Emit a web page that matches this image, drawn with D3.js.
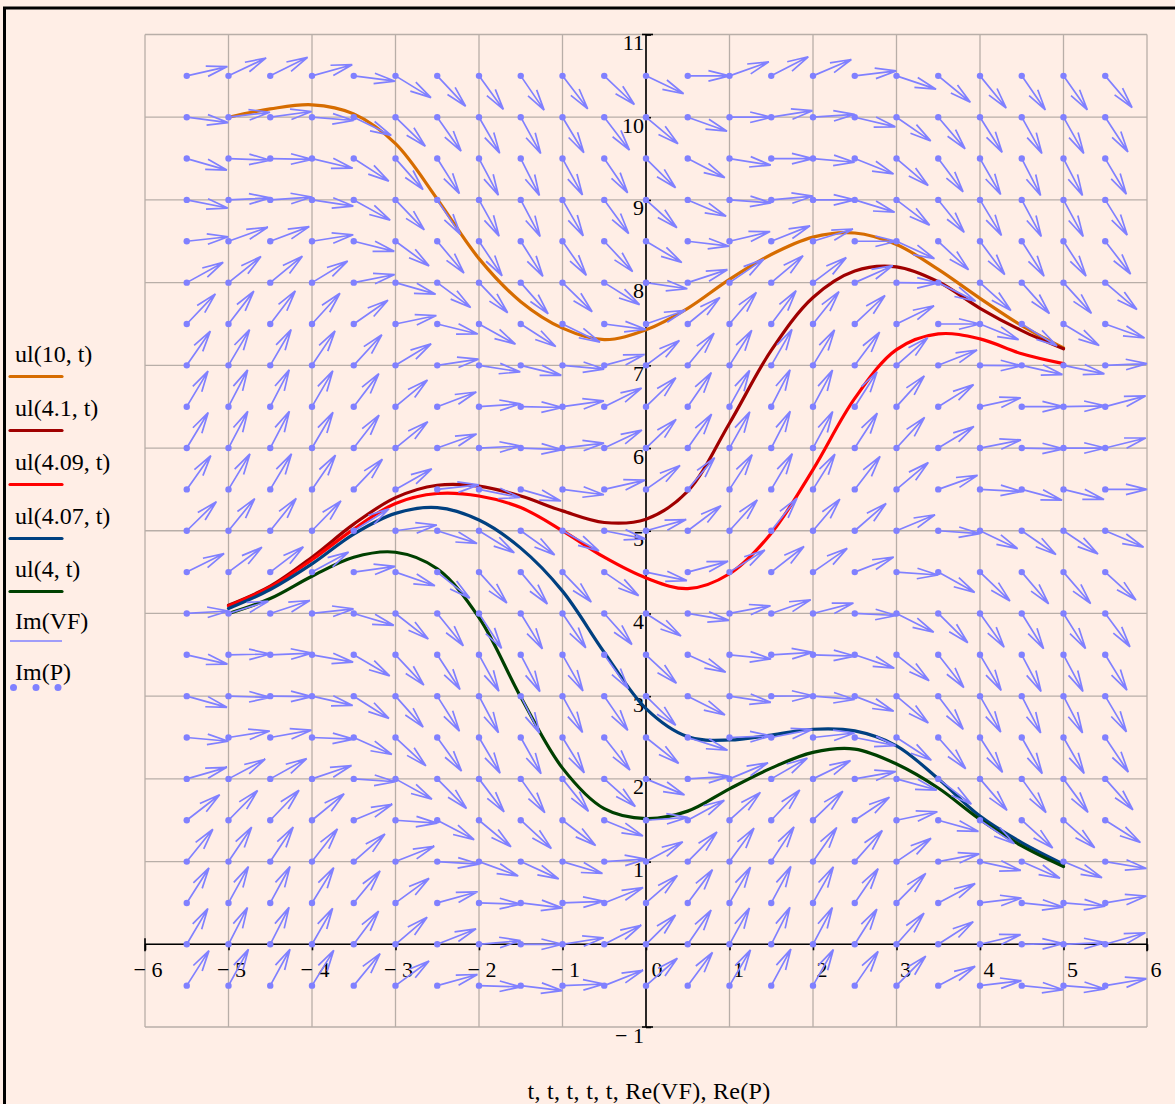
<!doctype html>
<html>
<head>
<meta charset="utf-8">
<style>
  body { margin: 0; background: #ffeee6; }
  text { font-family: "Liberation Serif", "Times New Roman", serif; fill: #000; }
</style>
<script src="https://d3js.org/d3.v7.min.js"></script>
</head>
<body>
<svg width="1175" height="1104"></svg>
<script>
// solution curves ul(y0, t), read at t = -5 .. 5 step 0.5
var curveT = [-5, -4.5, -4, -3.5, -3, -2.5, -2, -1.5, -1, -0.5, 0, 0.5, 1, 1.5, 2, 2.5, 3, 3.5, 4, 4.5, 5];
var ul10   = [10.00, 10.10, 10.15, 10.04, 9.68, 9.01, 8.29, 7.77, 7.45, 7.31, 7.43, 7.69, 8.04, 8.34, 8.55, 8.60, 8.46, 8.16, 7.81, 7.48, 7.21];
var ul4_1  = [4.10, 4.33, 4.68, 5.08, 5.40, 5.55, 5.54, 5.42, 5.24, 5.10, 5.14, 5.48, 6.30, 7.18, 7.82, 8.14, 8.19, 8.01, 7.69, 7.42, 7.20];
var ul4_09 = [4.09, 4.32, 4.65, 5.02, 5.33, 5.45, 5.42, 5.28, 5.00, 4.68, 4.43, 4.30, 4.48, 4.97, 5.74, 6.60, 7.19, 7.38, 7.32, 7.14, 7.02];
var ul4_07 = [4.06, 4.29, 4.60, 4.96, 5.21, 5.28, 5.13, 4.79, 4.27, 3.53, 2.85, 2.51, 2.47, 2.53, 2.60, 2.58, 2.40, 2.00, 1.55, 1.23, 0.97];
var ul4    = [4.00, 4.18, 4.45, 4.68, 4.74, 4.54, 3.95, 2.99, 2.13, 1.64, 1.52, 1.61, 1.88, 2.13, 2.32, 2.36, 2.18, 1.89, 1.51, 1.19, 0.94];

var seriesNames  = ["ul(10, t)", "ul(4.1, t)", "ul(4.09, t)", "ul(4.07, t)", "ul(4, t)"];
var seriesValues = [ul10, ul4_1, ul4_09, ul4_07, ul4];
var seriesColors = ["#d66c00", "#a00000", "#ff0000", "#004080", "#004000"];

// vector field: slope at each grid point (rows = fieldY, columns = fieldT)
var fieldT = [-5.5, -5, -4.5, -4, -3.5, -3, -2.5, -2, -1.5, -1, -0.5, 0, 0.5, 1, 1.5, 2, 2.5, 3, 3.5, 4, 4.5, 5, 5.5];
var fieldY = [10.5, 10, 9.5, 9, 8.5, 8, 7.5, 7, 6.5, 6, 5.5, 5, 4.5, 4, 3.5, 3, 2.5, 2, 1.5, 1, 0.5, 0, -0.5];
var fieldSlope = [
  [0.23, 0.48, 0.50, 0.28, -0.13, -0.62, -1.08, -1.39, -1.48, -1.32, -0.96, -0.48, 0.00, 0.36, 0.52, 0.43, 0.12, -0.34, -0.83, -1.24, -1.46, -1.44, -1.19],
  [-0.13, 0.12, 0.14, -0.08, -0.49, -0.98, -1.44, -1.75, -1.84, -1.68, -1.32, -0.84, -0.36, 0.00, 0.16, 0.07, -0.24, -0.70, -1.19, -1.60, -1.82, -1.80, -1.55],
  [-0.29, -0.04, -0.02, -0.24, -0.65, -1.14, -1.60, -1.91, -2.00, -1.84, -1.48, -1.00, -0.52, -0.16, 0.00, -0.09, -0.40, -0.86, -1.35, -1.76, -1.98, -1.96, -1.71],
  [-0.20, 0.05, 0.07, -0.15, -0.56, -1.05, -1.51, -1.82, -1.91, -1.75, -1.39, -0.91, -0.43, -0.07, 0.09, 0.00, -0.31, -0.77, -1.26, -1.67, -1.89, -1.87, -1.62],
  [0.11, 0.36, 0.38, 0.16, -0.25, -0.74, -1.20, -1.51, -1.60, -1.44, -1.08, -0.60, -0.12, 0.24, 0.40, 0.31, 0.00, -0.46, -0.95, -1.36, -1.58, -1.56, -1.31],
  [0.56, 0.81, 0.83, 0.61, 0.20, -0.29, -0.75, -1.06, -1.15, -0.99, -0.63, -0.15, 0.33, 0.69, 0.85, 0.76, 0.45, -0.01, -0.50, -0.91, -1.13, -1.11, -0.86],
  [1.06, 1.31, 1.33, 1.11, 0.70, 0.21, -0.25, -0.56, -0.65, -0.49, -0.13, 0.35, 0.83, 1.19, 1.35, 1.26, 0.95, 0.49, 0.00, -0.41, -0.63, -0.61, -0.36],
  [1.46, 1.71, 1.73, 1.51, 1.10, 0.61, 0.15, -0.16, -0.25, -0.09, 0.27, 0.75, 1.23, 1.59, 1.75, 1.66, 1.35, 0.89, 0.40, -0.01, -0.23, -0.21, 0.04],
  [1.69, 1.94, 1.96, 1.74, 1.33, 0.84, 0.38, 0.07, -0.02, 0.14, 0.50, 0.98, 1.46, 1.82, 1.98, 1.89, 1.58, 1.12, 0.63, 0.22, 0.00, 0.02, 0.27],
  [1.67, 1.92, 1.94, 1.72, 1.31, 0.82, 0.36, 0.05, -0.04, 0.12, 0.48, 0.96, 1.44, 1.80, 1.96, 1.87, 1.56, 1.10, 0.61, 0.20, -0.02, 0.00, 0.25],
  [1.42, 1.67, 1.69, 1.47, 1.06, 0.57, 0.11, -0.20, -0.29, -0.13, 0.23, 0.71, 1.19, 1.55, 1.71, 1.62, 1.31, 0.85, 0.36, -0.05, -0.27, -0.25, 0.00],
  [0.99, 1.24, 1.26, 1.04, 0.63, 0.14, -0.32, -0.63, -0.72, -0.56, -0.20, 0.28, 0.76, 1.12, 1.28, 1.19, 0.88, 0.42, -0.07, -0.48, -0.70, -0.68, -0.43],
  [0.50, 0.75, 0.77, 0.55, 0.14, -0.35, -0.81, -1.12, -1.21, -1.05, -0.69, -0.21, 0.27, 0.63, 0.79, 0.70, 0.39, -0.07, -0.56, -0.97, -1.19, -1.17, -0.92],
  [0.06, 0.31, 0.33, 0.11, -0.30, -0.79, -1.25, -1.56, -1.65, -1.49, -1.13, -0.65, -0.17, 0.19, 0.35, 0.26, -0.05, -0.51, -1.00, -1.41, -1.63, -1.61, -1.36],
  [-0.23, 0.02, 0.04, -0.18, -0.59, -1.08, -1.54, -1.85, -1.94, -1.78, -1.42, -0.94, -0.46, -0.10, 0.06, -0.03, -0.34, -0.80, -1.29, -1.70, -1.92, -1.90, -1.65],
  [-0.28, -0.03, -0.01, -0.23, -0.64, -1.13, -1.59, -1.90, -1.99, -1.83, -1.47, -0.99, -0.51, -0.15, 0.01, -0.08, -0.39, -0.85, -1.34, -1.75, -1.97, -1.95, -1.70],
  [-0.09, 0.16, 0.18, -0.04, -0.45, -0.94, -1.40, -1.71, -1.80, -1.64, -1.28, -0.80, -0.32, 0.04, 0.20, 0.11, -0.20, -0.66, -1.15, -1.56, -1.78, -1.76, -1.51],
  [0.29, 0.54, 0.56, 0.34, -0.07, -0.56, -1.02, -1.33, -1.42, -1.26, -0.90, -0.42, 0.06, 0.42, 0.58, 0.49, 0.18, -0.28, -0.77, -1.18, -1.40, -1.38, -1.13],
  [0.78, 1.03, 1.05, 0.83, 0.42, -0.07, -0.53, -0.84, -0.93, -0.77, -0.41, 0.07, 0.55, 0.91, 1.07, 0.98, 0.67, 0.21, -0.28, -0.69, -0.91, -0.89, -0.64],
  [1.25, 1.50, 1.52, 1.30, 0.89, 0.40, -0.06, -0.37, -0.46, -0.30, 0.06, 0.54, 1.02, 1.38, 1.54, 1.45, 1.14, 0.68, 0.19, -0.22, -0.44, -0.42, -0.17],
  [1.59, 1.84, 1.86, 1.64, 1.23, 0.74, 0.28, -0.03, -0.12, 0.04, 0.40, 0.88, 1.36, 1.72, 1.88, 1.79, 1.48, 1.02, 0.53, 0.12, -0.10, -0.08, 0.17],
  [1.71, 1.96, 1.98, 1.76, 1.35, 0.86, 0.40, 0.09, 0.00, 0.16, 0.52, 1.00, 1.48, 1.84, 2.00, 1.91, 1.60, 1.14, 0.65, 0.24, 0.02, 0.04, 0.29],
  [1.59, 1.84, 1.86, 1.64, 1.23, 0.74, 0.28, -0.03, -0.12, 0.04, 0.40, 0.88, 1.36, 1.72, 1.88, 1.79, 1.48, 1.02, 0.53, 0.12, -0.10, -0.08, 0.17]
];

// ticks
var xTickValues = [-6, -5, -4, -3, -2, -1, 0, 1, 2, 3, 4, 5, 6];
var xTickLabels = ["\u2212 6", "\u2212 5", "\u2212 4", "\u2212 3", "\u2212 2", "\u2212 1", "0", "1", "2", "3", "4", "5", "6"];
var yTickValues = [-1, 1, 2, 3, 4, 5, 6, 7, 8, 9, 10, 11];
var yTickLabels = ["\u2212 1", "1", "2", "3", "4", "5", "6", "7", "8", "9", "10", "11"];
var xTitle = "t, t, t, t, t, Re(VF), Re(P)";

var svg = d3.select("svg");
var bg = "#ffeee6", fieldColor = "#8080ff", gridColor = "#b8aea8";

svg.append("rect").attr("width", 1175).attr("height", 1104).attr("fill", bg);
// outer black frame (only left/top edges are inside the picture)
svg.append("rect").attr("x", 4.5).attr("y", 8).attr("width", 1200).attr("height", 1200)
   .attr("fill", "none").attr("stroke", "#000").attr("stroke-width", 3);

var x = d3.scaleLinear().domain([-6, 6]).range([145, 1147]);
var y = d3.scaleLinear().domain([-1, 11]).range([1027, 34.5]);

// grid
var grid = svg.append("g").attr("stroke", gridColor).attr("stroke-width", 1.3);
d3.range(-6, 7).forEach(function(v) {
    grid.append("line").attr("x1", x(v)).attr("x2", x(v)).attr("y1", y(-1)).attr("y2", y(11));
});
d3.range(-1, 12).forEach(function(v) {
    grid.append("line").attr("y1", y(v)).attr("y2", y(v)).attr("x1", x(-6)).attr("x2", x(6));
});

// axes through the origin
var axes = svg.append("g").attr("stroke", "#000").attr("stroke-width", 1.6);
axes.append("line").attr("x1", x(-6)).attr("x2", x(6)).attr("y1", y(0)).attr("y2", y(0));
axes.append("line").attr("x1", x(0)).attr("x2", x(0)).attr("y1", y(-1)).attr("y2", y(11));
// end caps
axes.append("line").attr("x1", x(-6)).attr("x2", x(-6)).attr("y1", y(0) - 6).attr("y2", y(0) + 7);
axes.append("line").attr("x1", x(6)).attr("x2", x(6)).attr("y1", y(0) - 6).attr("y2", y(0) + 7);
axes.append("line").attr("x1", x(0) - 4).attr("x2", x(0) + 7).attr("y1", y(11)).attr("y2", y(11));
axes.append("line").attr("x1", x(0) - 4).attr("x2", x(0) + 7).attr("y1", y(-1)).attr("y2", y(-1));

var xAxis = svg.append("g").attr("transform", "translate(0," + y(0) + ")")
    .call(d3.axisBottom(x).tickValues(xTickValues).tickSizeInner(6).tickSizeOuter(0)
        .tickFormat(function(d, i) { return xTickLabels[i]; }));
xAxis.select(".domain").remove();
xAxis.selectAll("line").attr("stroke", "#000").attr("stroke-width", 1.6);
xAxis.selectAll("text")
    .attr("font-size", 22).attr("font-family", "Liberation Serif, serif")
    .attr("text-anchor", "start").attr("dy", null).attr("y", 33)
    .attr("x", function(d) { return d < 0 ? -12 : (d === 0 ? 5 : 3); });

var yAxis = svg.append("g").attr("transform", "translate(" + x(0) + ",0)")
    .call(d3.axisRight(y).tickValues(yTickValues).tickSizeInner(5).tickSizeOuter(0)
        .tickFormat(function(d, i) { return yTickLabels[i]; }));
yAxis.select(".domain").remove();
yAxis.selectAll("line").attr("stroke", "#000").attr("stroke-width", 1.6);
yAxis.selectAll("text")
    .attr("font-size", 22).attr("font-family", "Liberation Serif, serif")
    .attr("text-anchor", "end").attr("dy", null).attr("x", -2).attr("y", 15);

// solution curves
var line = d3.line()
    .x(function(d) { return x(d[0]); })
    .y(function(d) { return y(d[1]); })
    .curve(d3.curveCatmullRom.alpha(0.5));

seriesValues.forEach(function(vals, k) {
    svg.append("path")
       .datum(curveT.map(function(t, i) { return [t, vals[i]]; }))
       .attr("d", line)
       .attr("fill", "none")
       .attr("stroke", seriesColors[k])
       .attr("stroke-width", 3.2)
       .attr("stroke-linecap", "round");
});

// vector field arrows (length 0.5 in data units, barbs at +-14 deg)
var pts = [];
fieldY.forEach(function(yy, i) {
    fieldT.forEach(function(t, j) { pts.push({ t: t, y: yy, m: fieldSlope[i][j] }); });
});

var barbAngle = 14 * Math.PI / 180;
svg.append("g").selectAll("path").data(pts).enter().append("path")
    .attr("fill", "none").attr("stroke", fieldColor).attr("stroke-width", 1.7)
    .attr("d", function(d) {
        var u = 0.5 / Math.sqrt(1 + d.m * d.m);
        var x0 = x(d.t), y0 = y(d.y), x1 = x(d.t + u), y1 = y(d.y + d.m * u);
        var back = Math.atan2(y0 - y1, x0 - x1);
        var L = 0.52 * Math.hypot(x1 - x0, y1 - y0);
        var b1x = x1 + L * Math.cos(back + barbAngle), b1y = y1 + L * Math.sin(back + barbAngle);
        var b2x = x1 + L * Math.cos(back - barbAngle), b2y = y1 + L * Math.sin(back - barbAngle);
        return "M" + x0 + "," + y0 + "L" + x1 + "," + y1 +
               "M" + b1x + "," + b1y + "L" + x1 + "," + y1 + "L" + b2x + "," + b2y;
    });

svg.append("g").selectAll("circle").data(pts).enter().append("circle")
    .attr("cx", function(d) { return x(d.t); })
    .attr("cy", function(d) { return y(d.y); })
    .attr("r", 3.2)
    .attr("fill", fieldColor);

// legend
var legend = svg.append("g");
var legendBase = [362, 416, 470, 524, 577];
seriesNames.forEach(function(name, k) {
    legend.append("text").attr("x", 15).attr("y", legendBase[k]).attr("font-size", 24).text(name);
    legend.append("line").attr("x1", 10).attr("x2", 62)
        .attr("y1", legendBase[k] + 14.5).attr("y2", legendBase[k] + 14.5)
        .attr("stroke", seriesColors[k]).attr("stroke-width", 3.2).attr("stroke-linecap", "round");
});
legend.append("text").attr("x", 15).attr("y", 629).attr("font-size", 24).text("Im(VF)");
legend.append("line").attr("x1", 10).attr("x2", 62).attr("y1", 641).attr("y2", 641)
    .attr("stroke", fieldColor).attr("stroke-width", 1.7);
legend.append("text").attr("x", 15).attr("y", 680).attr("font-size", 24).text("Im(P)");
[13.5, 36, 58].forEach(function(cx) {
    legend.append("circle").attr("cx", cx).attr("cy", 687.5).attr("r", 3.5).attr("fill", fieldColor);
});

// x title
svg.append("text").attr("x", 649).attr("y", 1099).attr("text-anchor", "middle")
   .attr("font-size", 24).attr("letter-spacing", 0.3).text(xTitle);
</script>
</body>
</html>
